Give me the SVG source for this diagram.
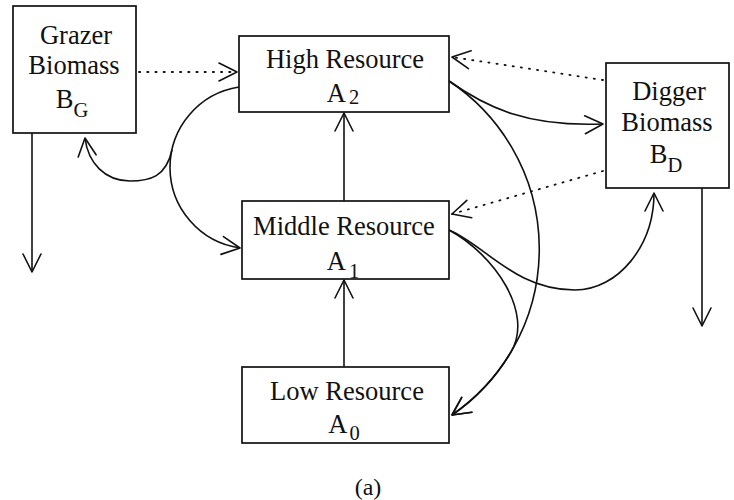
<svg xmlns="http://www.w3.org/2000/svg" width="734" height="500" viewBox="0 0 734 500">
<style>
  .box{fill:#fff;stroke:#111;stroke-width:1.7}
  .t{font-family:"Liberation Serif","Times New Roman",serif;font-size:26.5px;fill:#111;text-anchor:middle}
  .s{font-size:20.5px}
  .c{fill:none;stroke:#111;stroke-width:1.6}
  .d{fill:none;stroke:#111;stroke-width:1.8;stroke-dasharray:1.2 7;stroke-linecap:round}
  .a{marker-end:url(#ah)}
</style>
<defs>
  <marker id="ah" markerUnits="userSpaceOnUse" markerWidth="26" markerHeight="26" viewBox="-22 -13 26 26" refX="0" refY="0" orient="auto">
    <path d="M-18,-9 L0,0 L-18,9" fill="none" stroke="#111" stroke-width="1.6" stroke-linejoin="round" stroke-linecap="round"/>
  </marker>
</defs>
<rect width="734" height="500" fill="#fff"/>
<g id="connectors">
  <path class="d a" d="M139,72 L237,72"/>
  <path class="d a" d="M603,80 L452,57"/>
  <path class="d a" d="M603,171 L452,214"/>
  <path class="c a" d="M344,201 L344,113"/>
  <path class="c a" d="M344,367 L344,280"/>
  <path class="c a" d="M32,133 L32,272"/>
  <path class="c a" d="M702,188 L702,326"/>
  <path class="c a" d="M449,81 C487,108 528,127 603,124"/>
  <path class="c a" d="M449,81 A201.5,201.5 0 0 1 452,415"/>
  <path class="c a" d="M449,230 C495,255 534,313 511,352 A201.5,201.5 0 0 1 452,415"/>
  <path class="c a" d="M449,230 C485,245 515,290 575,290 C618,290 654,246 654,193"/>
  <path class="c a" d="M239,87 A81.5,81.5 0 0 0 170,167.5 A81.5,81.5 0 0 0 240,248"/>
  <path class="c a" d="M172,150 C166,177 150,181 130,181 C105,181 88,163 85,138"/>
</g>
<g id="grazer">
  <rect class="box" x="13" y="6" width="123" height="127"/>
  <text class="t" x="76" y="44">Grazer</text>
  <text class="t" x="74" y="74">Biomass</text>
  <text class="t" x="72" y="108">B<tspan class="s" dy="9">G</tspan></text>
</g>
<g id="high">
  <rect class="box" x="239" y="36" width="210" height="76"/>
  <text class="t" x="345" y="68">High Resource</text>
  <text class="t" x="343" y="102">A<tspan class="s" dx="3" dy="2">2</tspan></text>
</g>
<g id="middle">
  <rect class="box" x="242" y="201" width="207" height="78"/>
  <text class="t" x="344" y="235">Middle Resource</text>
  <text class="t" x="343" y="270">A<tspan class="s" dx="3" dy="8">1</tspan></text>
</g>
<g id="low">
  <rect class="box" x="242" y="367" width="207" height="76"/>
  <text class="t" x="347" y="400">Low Resource</text>
  <text class="t" x="344" y="433">A<tspan class="s" dx="2" dy="7">0</tspan></text>
</g>
<g id="digger">
  <rect class="box" x="606" y="63" width="123" height="125"/>
  <text class="t" x="669" y="100">Digger</text>
  <text class="t" x="667" y="131">Biomass</text>
  <text class="t" x="666" y="163">B<tspan class="s" dy="9">D</tspan></text>
</g>
<text id="caption" x="368" y="495" style="font-family:'Liberation Serif',serif;font-size:24px;fill:#111;text-anchor:middle">(a)</text>
</svg>
